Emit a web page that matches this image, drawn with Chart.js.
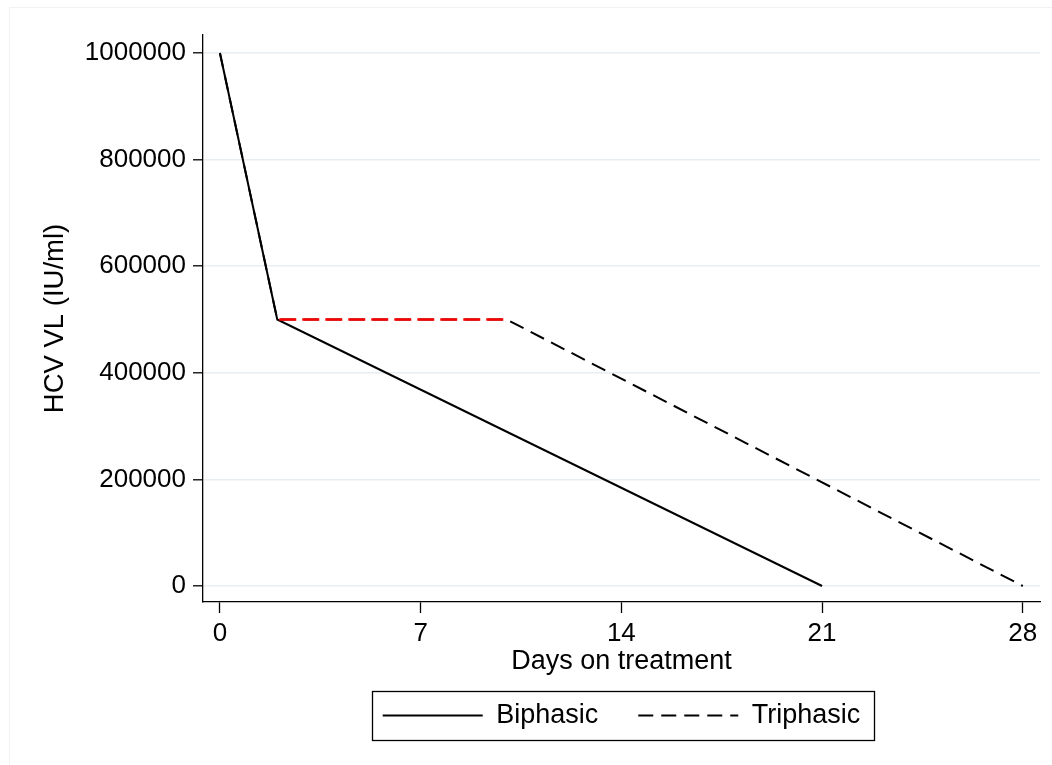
<!DOCTYPE html>
<html>
<head>
<meta charset="utf-8">
<title>HCV viral load decline</title>
<script src="https://cdn.jsdelivr.net/npm/chart.js@4/dist/chart.umd.min.js"></script>
<style>
  html, body { margin: 0; padding: 0; background: #ffffff; }
  #wrap { width: 1052px; height: 765px; }
</style>
</head>
<body>
<div id="wrap"><canvas id="chart" width="1052" height="765"></canvas></div>
<script>
// Days on treatment and HCV viral load (IU/ml) for each decay model
const biphasicDays = [0, 2, 21];
const biphasicVL = [1000000, 500000, 0];

const triphasicDays = [0, 2, 10, 28];
const triphasicVL = [1000000, 500000, 500000, 0];

// Shoulder phase of the triphasic model, highlighted in red
const shoulderDays = [2, 10];
const shoulderVL = [500000, 500000];

// Axis ticks
const dayTicks = [0, 7, 14, 21, 28];
const vlTicks = [0, 200000, 400000, 600000, 800000, 1000000];

const toPoints = (xs, ys) => xs.map((x, i) => ({ x: x, y: ys[i] }));

Chart.defaults.font.family = '"Liberation Sans", Arial, sans-serif';
Chart.defaults.font.size = 26;
Chart.defaults.color = '#000000';

// Thin box drawn around the legend entries, plus the faint graph-region frame
const legendFrame = {
  id: 'legendFrame',
  beforeDraw(chart) {
    const ctx = chart.ctx;
    ctx.save();
    ctx.strokeStyle = '#f2f2f2';
    ctx.lineWidth = 1;
    ctx.strokeRect(9.5, 7.5, 1200, 900);
    ctx.restore();
  },
  afterDraw(chart) {
    const hb = chart.legend && chart.legend.legendHitBoxes;
    if (!hb || !hb.length) return;
    const first = hb[0];
    const last = hb[hb.length - 1];
    const midY = first.top + first.height / 2;
    const left = Math.round(first.left - 11) + 0.5;
    const right = Math.round(last.left + last.width + 14) + 0.5;
    const top = Math.round(midY - 24.5) + 0.5;
    const ctx = chart.ctx;
    ctx.save();
    ctx.strokeStyle = '#000000';
    ctx.lineWidth = 1.3;
    ctx.strokeRect(left, top, right - left, 49);
    ctx.restore();
  }
};

// Legend samples take the dash pattern and width of their dataset's line
function lineLegendLabels(chart) {
  const items = Chart.defaults.plugins.legend.labels.generateLabels(chart);
  items.forEach((item) => {
    const ds = chart.data.datasets[item.datasetIndex];
    item.lineDash = ds.borderDash || [];
    item.lineWidth = ds.borderWidth;
    item.strokeStyle = ds.borderColor;
    item.pointStyle = 'line';
  });
  return items;
}

new Chart(document.getElementById('chart'), {
  type: 'line',
  data: {
    datasets: [
      {
        label: 'Shoulder',
        data: toPoints(shoulderDays, shoulderVL),
        borderColor: '#ff0000',
        borderWidth: 2.6,
        borderDash: [17, 6],
        borderDashOffset: -2,
        pointRadius: 0,
        tension: 0,
        order: 0
      },
      {
        label: 'Biphasic',
        data: toPoints(biphasicDays, biphasicVL),
        borderColor: '#000000',
        borderWidth: 2,
        pointRadius: 0,
        tension: 0,
        order: 1
      },
      {
        label: 'Triphasic',
        data: toPoints(triphasicDays, triphasicVL),
        borderColor: '#000000',
        borderWidth: 2,
        borderDash: [15, 8],
        pointRadius: 0,
        tension: 0,
        order: 2
      }
    ]
  },
  options: {
    responsive: false,
    devicePixelRatio: 1,
    animation: false,
    layout: { padding: { top: 35, right: 12, bottom: 26, left: 0 } },
    plugins: {
      tooltip: { enabled: false },
      legend: {
        position: 'bottom',
        fullSize: false,
        labels: {
          usePointStyle: true,
          pointStyle: 'line',
          pointStyleWidth: 100,
          padding: 40,
          color: '#000000',
          font: { size: 27 },
          generateLabels: lineLegendLabels,
          filter: (item) => item.text !== 'Shoulder'
        }
      }
    },
    scales: {
      x: {
        type: 'linear',
        min: -0.59,
        max: 28.6,
        afterBuildTicks: (scale) => { scale.ticks = dayTicks.map(v => ({ value: v })); },
        afterFit: (scale) => { scale.height = 60; },
        ticks: {
          padding: 5,
          font: { size: 26 },
          color: '#000000',
          maxRotation: 0,
          callback: (v) => String(v)
        },
        grid: {
          display: true,
          drawOnChartArea: false,
          drawTicks: true,
          tickLength: 11,
          tickColor: '#000000',
          tickWidth: 1.3
        },
        border: { display: true, color: '#000000', width: 1.3 },
        title: {
          display: true,
          text: 'Days on treatment',
          color: '#000000',
          font: { size: 27, lineHeight: 1 },
          padding: { top: 0, bottom: -13 }
        }
      },
      y: {
        type: 'linear',
        min: -30000,
        max: 1033700,
        afterBuildTicks: (scale) => { scale.ticks = vlTicks.map(v => ({ value: v })); },
        afterFit: (scale) => { scale.width = 203; },
        ticks: {
          padding: 7,
          font: { size: 26 },
          color: '#000000',
          callback: (v) => String(v)
        },
        grid: {
          display: true,
          drawOnChartArea: true,
          color: '#e8eef1',
          lineWidth: 1.6,
          drawTicks: true,
          tickLength: 10,
          tickColor: '#000000',
          tickWidth: 1.3
        },
        border: { display: true, color: '#000000', width: 1.3 },
        title: {
          display: true,
          text: 'HCV VL (IU/ml)',
          color: '#000000',
          font: { size: 27.5, lineHeight: 1 },
          padding: { top: 42, bottom: 0 }
        }
      }
    }
  },
  plugins: [legendFrame]
});
</script>
</body>
</html>
